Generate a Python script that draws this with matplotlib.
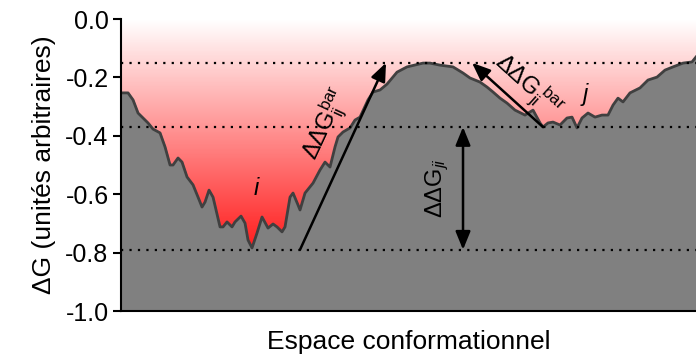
import numpy as np
import matplotlib.pyplot as plt
from matplotlib.colors import LinearSegmentedColormap

plt.rcParams["font.family"] = ["Liberation Sans", "DejaVu Sans"]
plt.rcParams["mathtext.fontset"] = "custom"
plt.rcParams["mathtext.rm"] = "Liberation Sans"
plt.rcParams["mathtext.it"] = "Liberation Sans:italic"

# paysage d'energie libre
landscape_x = [0, 7, 12, 17, 22, 27, 32, 39, 44, 49, 52, 57, 61, 66, 72, 77, 81, 84,
               88, 92, 99, 102, 106, 111, 114, 120, 124, 127, 131, 136, 141, 147, 152,
               156, 161, 164, 169, 172, 177, 179, 184, 192, 199, 204, 209, 214, 217,
               222, 229, 234, 239, 247, 252, 259, 266, 276, 286, 302, 309, 319, 332,
               342, 349, 359, 366, 372, 379, 386, 394, 404, 412, 419, 422, 427, 432,
               439, 446, 451, 456, 461, 467, 474, 481, 487, 492, 497, 502, 509, 519,
               527, 536, 544, 552, 562, 571, 575]
landscape_y = [-0.253, -0.253, -0.277, -0.322, -0.339, -0.356, -0.377, -0.390, -0.438,
               -0.500, -0.500, -0.476, -0.490, -0.541, -0.568, -0.610, -0.644, -0.627,
               -0.586, -0.610, -0.712, -0.712, -0.695, -0.712, -0.695, -0.675, -0.699,
               -0.757, -0.784, -0.733, -0.678, -0.716, -0.702, -0.712, -0.729, -0.712,
               -0.610, -0.596, -0.637, -0.654, -0.596, -0.562, -0.517, -0.490, -0.507,
               -0.438, -0.404, -0.387, -0.373, -0.346, -0.336, -0.277, -0.250, -0.243,
               -0.223, -0.182, -0.164, -0.151, -0.151, -0.158, -0.164, -0.185, -0.202,
               -0.216, -0.233, -0.250, -0.271, -0.288, -0.312, -0.329, -0.312, -0.356,
               -0.370, -0.356, -0.353, -0.363, -0.339, -0.336, -0.373, -0.339, -0.322,
               -0.336, -0.329, -0.329, -0.295, -0.271, -0.284, -0.253, -0.236, -0.209,
               -0.199, -0.175, -0.164, -0.151, -0.147, -0.130]

# niveaux de reference
barrier = -0.15
min_j = -0.37
min_i = -0.79
yticks = [0.0, -0.2, -0.4, -0.6, -0.8, -1.0]

# positions en x des fleches
x_arrow_ij = (179, 265)
x_arrow_ji = (422, 351)
x_arrow_dg = 342

fig = plt.figure(figsize=(6.96, 3.56), dpi=100)
ax = fig.add_axes([0.1739, 0.1264, 0.8261, 0.8202])

xmax = landscape_x[-1]

# degrade rouge
reds = LinearSegmentedColormap.from_list("wr", ["white", "#ff1a1a"])
grad = np.linspace(0, 1, 256).reshape(-1, 1)
ax.imshow(grad, cmap=reds, aspect="auto", extent=[0, xmax, -1.0, 0.0],
          origin="upper", vmin=0, vmax=0.8, zorder=0)

ax.fill_between(landscape_x, landscape_y, -1.0, color="#808080", zorder=1)
ax.plot(landscape_x, landscape_y, color="#404040", lw=2, zorder=2)

for lvl in [barrier, min_j, min_i]:
    ax.axhline(lvl, color="black", lw=1.6, ls=(0, (1, 2.8)), zorder=3)

head = "head_length=1.1,head_width=0.45"
arrow_kw = dict(arrowstyle="-|>," + head, color="black",
                lw=1.8, shrinkA=0, shrinkB=0)
ax.annotate("", xy=(x_arrow_ij[1], barrier), xytext=(x_arrow_ij[0], min_i),
            arrowprops=arrow_kw, zorder=4)
ax.annotate("", xy=(x_arrow_ji[1], barrier), xytext=(x_arrow_ji[0], min_j),
            arrowprops=arrow_kw, zorder=4)
ax.annotate("", xy=(x_arrow_dg, min_j), xytext=(x_arrow_dg, min_i),
            arrowprops=dict(arrowstyle="<|-|>," + head, color="black",
                            lw=1.8, shrinkA=0, shrinkB=0), zorder=4)

ax.text(206, -0.36, r"ΔΔG$^{\mathrm{bar}}_{\mathrm{ij}}$", fontsize=17, rotation=65,
        ha="center", va="center", zorder=5)
ax.text(406, -0.23, r"ΔΔG$^{\mathrm{\ bar}}_{\mathrm{ji}}$", fontsize=17, rotation=-42,
        ha="center", va="center", zorder=5)
ax.text(316, -0.58, r"ΔΔG$_{ji}$", fontsize=17, rotation=90,
        ha="center", va="center", zorder=5)
ax.text(135, -0.58, "i", fontsize=17, style="italic", ha="center", va="center", zorder=5)
ax.text(464, -0.26, "j", fontsize=17, style="italic", ha="center", va="center", zorder=5)

ax.set_xlim(0, xmax)
ax.set_ylim(-1.0, 0.0)
ax.set_yticks(yticks)
ax.set_yticklabels([f"{v:.1f}" for v in yticks], fontsize=18)
ax.set_xticks([])
ax.tick_params(axis="y", direction="out", length=6, width=1.5, pad=3)
ax.spines["top"].set_visible(False)
ax.spines["right"].set_visible(False)
ax.spines["left"].set_linewidth(1.5)
ax.spines["bottom"].set_linewidth(1.5)
ax.set_xlabel("Espace conformationnel", fontsize=19, labelpad=14)
ax.set_ylabel("ΔG (unités arbitraires)", fontsize=19, labelpad=7)

fig.savefig("out.png", dpi=100)
